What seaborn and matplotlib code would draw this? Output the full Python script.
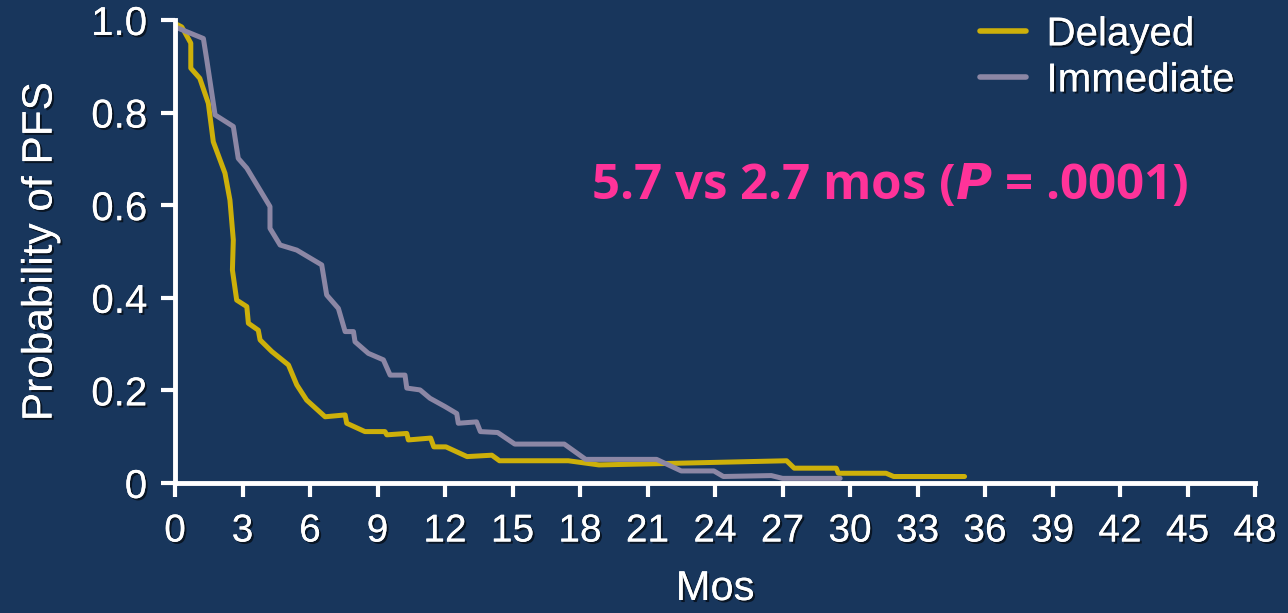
import pandas as pd
import seaborn as sns
import matplotlib.pyplot as plt
import matplotlib.patheffects as pe

# PFS curves
delayed_t = [0.1, 0.3, 0.7, 0.7, 1.1, 1.48, 1.7, 2.22, 2.44, 2.59, 2.55, 2.74, 3.19, 3.26,
             3.7, 3.78, 4.3, 5.04, 5.41, 5.85, 6.67, 7.56, 7.63, 8.44, 9.33, 9.41, 10.3,
             10.37, 11.36, 11.5, 12.04, 12.98, 14.08, 14.42, 17.48, 18.84, 21.73, 27.18,
             27.52, 29.39, 29.48, 31.6, 31.94, 35.09]
delayed_p = [0.99, 0.985, 0.95, 0.896, 0.874, 0.82, 0.737, 0.669, 0.611, 0.525, 0.46, 0.395,
             0.381, 0.345, 0.33, 0.309, 0.284, 0.255, 0.212, 0.179, 0.143, 0.147, 0.129,
             0.111, 0.111, 0.104, 0.107, 0.093, 0.097, 0.078, 0.078, 0.057, 0.060, 0.048,
             0.048, 0.039, 0.042, 0.048, 0.032, 0.032, 0.021, 0.021, 0.014, 0.014]

immediate_t = [0.1, 1.26, 1.41, 1.78, 2.59, 2.81, 3.19, 4.22, 4.22, 4.67, 5.41, 6.52, 6.74,
               7.26, 7.56, 7.93, 8.0, 8.59, 9.26, 9.56, 10.22, 10.3, 10.89, 11.33, 12.0,
               12.52, 12.59, 13.4, 13.57, 14.34, 15.1, 17.3, 18.25, 21.4, 22.5, 23.95,
               24.37, 26.5, 27.0, 29.56]
immediate_p = [0.983, 0.96, 0.914, 0.795, 0.77, 0.701, 0.68, 0.597, 0.55, 0.514, 0.503,
               0.471, 0.406, 0.377, 0.327, 0.327, 0.305, 0.28, 0.266, 0.233, 0.233, 0.205,
               0.201, 0.183, 0.165, 0.15, 0.129, 0.132, 0.111, 0.109, 0.084, 0.084, 0.051,
               0.051, 0.026, 0.026, 0.014, 0.016, 0.010, 0.010]

groups = ["Delayed", "Immediate"]
x_ticks = list(range(0, 49, 3))
y_ticks = [0, 0.2, 0.4, 0.6, 0.8, 1.0]
y_labels = ["0", "0.2", "0.4", "0.6", "0.8", "1.0"]

bg = "#18365C"
colors = {"Delayed": "#CDB00A", "Immediate": "#8C87A5"}

df = pd.concat([
    pd.DataFrame({"t": delayed_t, "p": delayed_p, "arm": "Delayed"}),
    pd.DataFrame({"t": immediate_t, "p": immediate_p, "arm": "Immediate"}),
])

sns.set_style("ticks")
plt.rcParams["font.family"] = ["Liberation Sans", "DejaVu Sans"]

fig = plt.figure(figsize=(12.88, 6.13), dpi=100, facecolor=bg)
ax = fig.add_axes([0.1359, 0.2121, 0.8385, 0.7553])
ax.set_facecolor(bg)

sns.lineplot(data=df, x="t", y="p", hue="arm", hue_order=groups, palette=colors,
             estimator=None, sort=False, linewidth=3.6, ax=ax, clip_on=False)

ax.set_xlim(0, 48)
ax.set_ylim(0, 1.0)
ax.set_xticks(x_ticks)
ax.set_yticks(y_ticks)
ax.set_yticklabels(y_labels)

# slide-style drop shadow on the white texts
shadow = [pe.withSimplePatchShadow(offset=(1.5, -1.5), shadow_rgbFace="black", alpha=0.6), pe.Normal()]
ax.tick_params(axis="both", colors="white", width=3, length=10, direction="out",
               labelcolor="white")
ax.tick_params(axis="y", labelsize=29, pad=10)
ax.tick_params(axis="x", labelsize=28, pad=12)
for lab in ax.get_xticklabels() + ax.get_yticklabels():
    lab.set_path_effects(shadow)

for s in ["top", "right"]:
    ax.spines[s].set_visible(False)
for s in ["left", "bottom"]:
    ax.spines[s].set_color("white")
    ax.spines[s].set_linewidth(3.5)

ax.set_xlabel("Mos", fontsize=30, color="white", labelpad=14, path_effects=shadow)
ax.set_ylabel("Probability of PFS", fontsize=30.5, color="white", labelpad=22, path_effects=shadow)

leg = ax.legend(loc="upper right", bbox_to_anchor=(0.981, 1.01), frameon=False, fontsize=29,
                labelcolor="white", handlelength=1.15, handletextpad=0.5, labelspacing=0.2,
                borderpad=0, borderaxespad=0)
for line in leg.get_lines():
    line.set_linewidth(4)
for txt in leg.get_texts():
    txt.set_path_effects(shadow)

ax.text(0.662, 0.64, r"5.7 vs 2.7 mos ($\bfit{P}$ = .0001)", transform=ax.transAxes,
        ha="center", va="center", fontsize=35.5, fontweight="bold", color="#FF3399",
        family=["Open Sans", "DejaVu Sans"])

fig.savefig("out.png", dpi=100, facecolor=bg)
